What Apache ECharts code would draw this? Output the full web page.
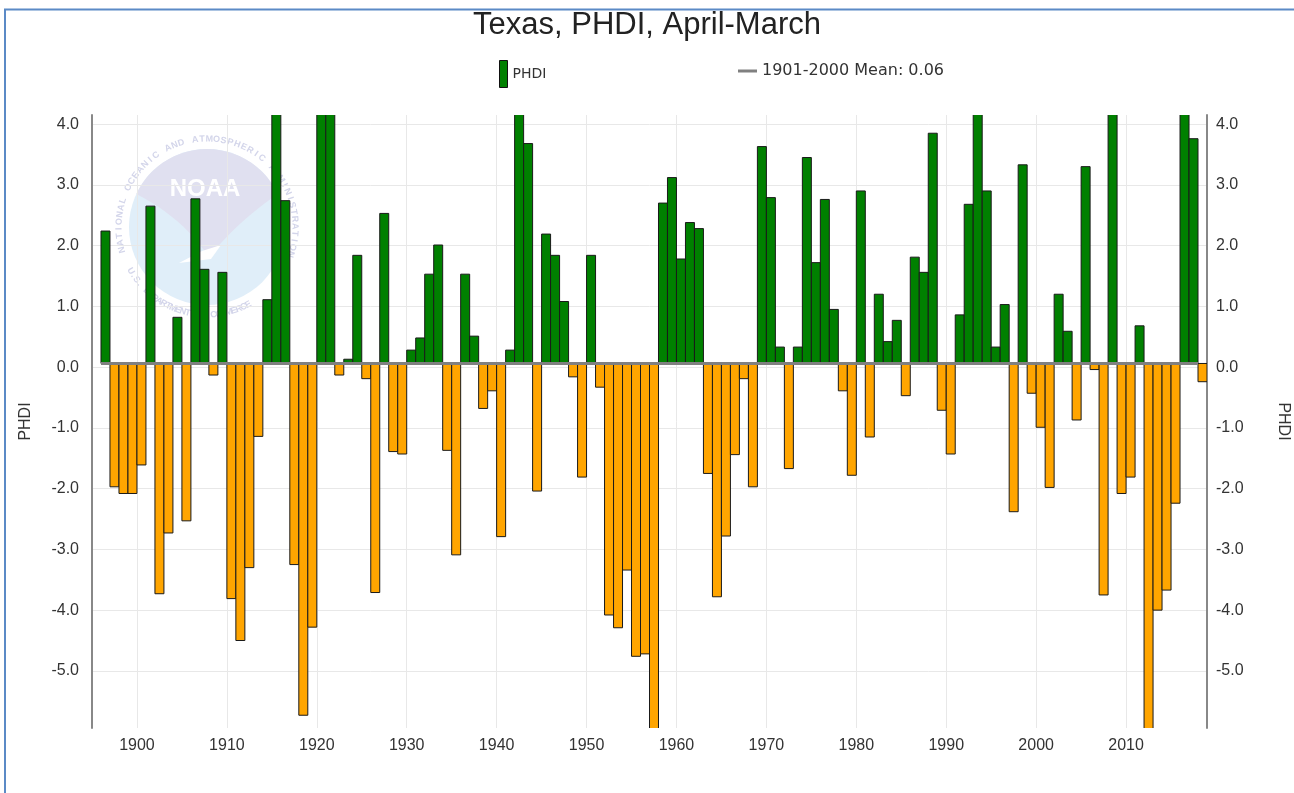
<!DOCTYPE html>
<html>
<head>
<meta charset="utf-8">
<title>Texas, PHDI, April-March</title>
<script src="https://cdn.jsdelivr.net/npm/echarts@6/dist/echarts.min.js"></script>
<style>
  html, body { margin: 0; padding: 0; background: #ffffff; }
  #chart { width: 1294px; height: 793px; }
</style>
</head>
<body>
<div id="chart"></div>
<script>
// Palmer Hydrological Drought Index, Texas, 12-month periods ending in March
const FIRST_YEAR = 1896;
const phdi = [
  2.24, -1.97, -2.08, -2.08, -1.61, 2.65, -3.73, -2.73, 0.82, -2.53,   // 1896-1905
  2.77, 1.61, -0.13, 1.56, -3.81, -4.50, -3.30, -1.14, 1.11, 4.60,     // 1906-1915
  2.74, -3.25, -5.73, -4.28, 5.00, 4.50, -0.13, 0.13, 1.84, -0.19,     // 1916-1925
  -3.71, 2.53, -1.39, -1.43, 0.28, 0.48, 1.53, 2.01, -1.37, -3.09,     // 1926-1935
  1.53, 0.51, -0.68, -0.39, -2.79, 0.28, 4.40, 3.68, -2.04, 2.19,      // 1936-1945
  1.84, 1.08, -0.16, -1.81, 1.84, -0.33, -4.08, -4.29, -3.34, -4.76,   // 1946-1955
  -4.72, -6.30, 2.70, 3.12, 1.78, 2.38, 2.28, -1.75, -3.78, -2.78,     // 1956-1965
  -1.44, -0.19, -1.97, 3.63, 2.79, 0.33, -1.67, 0.33, 3.45, 1.72,      // 1966-1975
  2.76, 0.95, -0.39, -1.78, 2.90, -1.15, 1.20, 0.42, 0.77, -0.47,      // 1976-1985
  1.81, 1.56, 3.85, -0.71, -1.43, 0.86, 2.68, 4.50, 2.90, 0.33,        // 1986-1995
  1.03, -2.38, 3.33, -0.43, -0.99, -1.98, 1.20, 0.59, -0.87, 3.30,     // 1996-2005
  -0.04, -3.75, 4.40, -2.08, -1.81, 0.68, -6.50, -4.00, -3.67, -2.24,  // 2006-2015
  4.50, 3.76, -0.24                                                    // 2016-2018
];
const years = phdi.map((_, i) => FIRST_YEAR + i);

// 1901-2000 base-period mean; bars grow up or down from it
const MEAN = 0.06;
const meanLabel = '1901-2000 Mean: 0.06';
const seriesLabel = 'PHDI';
const chartTitle = 'Texas, PHDI, April-March';

// axis extents
const xMin = 1895, xMax = 2019;
const yMin = -5.94, yMax = 4.15;

const GREEN = '#008000';
const ORANGE = '#ffa500';
const FONT = "'Liberation Sans', Arial, sans-serif";
const LEGEND_FONT = "'DejaVu Sans', Verdana, sans-serif";

// faint agency seal behind the plot
const sealTop = 'NATIONAL OCEANIC AND ATMOSPHERIC ADMINISTRATION';
const sealBottom = 'U.S. DEPARTMENT OF COMMERCE';
const sealName = 'NOAA';

function ringText(str, cx, cy, r, startDeg, endDeg, clockwise) {
  const out = [];
  const n = str.length;
  for (let i = 0; i < n; i++) {
    const t = n === 1 ? 0 : i / (n - 1);
    const deg = startDeg + (endDeg - startDeg) * t;
    const a = deg * Math.PI / 180;
    const x = cx + r * Math.cos(a);
    const y = cy + r * Math.sin(a);
    const rot = clockwise ? -(a + Math.PI / 2) : -(a - Math.PI / 2);
    out.push({
      type: 'text', x: x, y: y, rotation: rot, silent: true, z: -5,
      style: {
        text: str[i], fill: '#d3d5ea', font: 'bold 9px ' + FONT,
        align: 'center', verticalAlign: 'middle'
      }
    });
  }
  return out;
}

// sample a quadratic curve into polygon points
function quad(p0, c, p1, steps) {
  const pts = [];
  for (let i = 1; i <= steps; i++) {
    const t = i / steps, u = 1 - t;
    pts.push([u * u * p0[0] + 2 * u * t * c[0] + t * t * p1[0],
              u * u * p0[1] + 2 * u * t * c[1] + t * t * p1[1]]);
  }
  return pts;
}

function sealGraphics() {
  const cx = 207, cy = 227, r = 78;
  // upper band: arc across the top, closed by the gull's wings
  const top = [];
  for (let d = 205; d <= 335; d += 5) {
    const a = d * Math.PI / 180;
    top.push([cx + r * Math.cos(a), cy + r * Math.sin(a)]);
  }
  const R = top[top.length - 1], L = top[0];
  const tipPt = [cx + 2, cy + 30];
  const upper = top
    .concat(quad(R, [cx + 30, cy - 5], tipPt, 12))
    .concat(quad(tipPt, [cx - 25, cy - 10], L, 12));
  const tail = [[cx - 28, cy + 36], [cx - 5, cy + 24], [cx + 14, cy + 18], [cx + 4, cy + 32]];

  const items = [
    { type: 'circle', shape: { cx: cx, cy: cy, r: r }, style: { fill: '#e0eef9' }, silent: true, z: -6 },
    { type: 'polygon', shape: { points: upper }, style: { fill: '#e0e0f0' }, silent: true, z: -5 },
    { type: 'polygon', shape: { points: tail }, style: { fill: '#ffffff' }, silent: true, z: -5 },
    {
      type: 'text', x: cx - 2, y: cy - 38, silent: true, z: -4,
      style: {
        text: sealName, fill: '#ffffff', font: 'bold 24px ' + FONT,
        align: 'center', verticalAlign: 'middle'
      }
    }
  ];
  return items
    .concat(ringText(sealTop, cx, cy, 88, 165, 378, true))
    .concat(ringText(sealBottom, cx, cy, 88, 150, 62, false));
}

const frame = [
  { type: 'line', silent: true, shape: { x1: 4, y1: 9.5, x2: 1294, y2: 9.5 },
    style: { stroke: '#5b8ac6', lineWidth: 2 } },
  { type: 'line', silent: true, shape: { x1: 5, y1: 9, x2: 5, y2: 793 },
    style: { stroke: '#5b8ac6', lineWidth: 2 } }
];

const chart = echarts.init(document.getElementById('chart'), null, { renderer: 'canvas' });

const option = {
  backgroundColor: '#ffffff',
  animation: false,
  textStyle: { fontFamily: FONT },
  title: {
    text: chartTitle,
    left: 'center',
    top: 5,
    textStyle: { fontFamily: FONT, fontSize: 31, fontWeight: 'normal', color: '#222' }
  },
  legend: [
    {
      data: [{ name: seriesLabel, icon: 'rect',
               itemStyle: { color: GREEN, borderColor: '#111', borderWidth: 1 } }],
      left: 494, top: 55,
      itemWidth: 8, itemHeight: 27, itemGap: 6,
      selectedMode: false,
      textStyle: { fontFamily: LEGEND_FONT, fontSize: 14, color: '#333' }
    },
    {
      data: [{ name: meanLabel, icon: 'rect', itemStyle: { color: '#808080' } }],
      left: 733, top: 58,
      itemWidth: 19, itemHeight: 3, itemGap: 6,
      selectedMode: false,
      textStyle: { fontFamily: LEGEND_FONT, fontSize: 16, color: '#333' }
    }
  ],
  grid: { left: 92, right: 87, top: 115, bottom: 65, containLabel: false, outerBoundsMode: 'none' },
  xAxis: {
    type: 'value',
    min: xMin, max: xMax,
    splitNumber: 12,
    axisLine: { show: false },
    axisTick: { show: false },
    axisLabel: {
      fontFamily: FONT, fontSize: 16, color: '#333', margin: 10,
      showMinLabel: false, showMaxLabel: false,
      formatter: v => String(v)
    },
    splitLine: { show: true, showMinLine: false, showMaxLine: false,
                 lineStyle: { color: '#e8e8e8', width: 1 } }
  },
  yAxis: [
    {
      type: 'value', position: 'left',
      min: yMin, max: yMax, splitNumber: 10,
      name: seriesLabel, nameLocation: 'middle', nameGap: 58, nameRotate: 90,
      nameTextStyle: { fontFamily: FONT, fontSize: 16, color: '#333' },
      axisLine: { show: true, lineStyle: { color: '#888', width: 2 } },
      axisTick: { show: false },
      axisLabel: {
        fontFamily: FONT, fontSize: 16, color: '#333', margin: 13,
        showMinLabel: false, showMaxLabel: false,
        formatter: v => v.toFixed(1)
      },
      splitLine: { show: true, showMinLine: false, showMaxLine: false,
                   lineStyle: { color: '#e8e8e8', width: 1 } }
    },
    {
      type: 'value', position: 'right',
      min: yMin, max: yMax, splitNumber: 10,
      name: seriesLabel, nameLocation: 'middle', nameGap: 68, nameRotate: -90,
      nameTextStyle: { fontFamily: FONT, fontSize: 16, color: '#333' },
      axisLine: { show: true, lineStyle: { color: '#888', width: 2 } },
      axisTick: { show: false },
      axisLabel: {
        fontFamily: FONT, fontSize: 16, color: '#333', margin: 9,
        showMinLabel: false, showMaxLabel: false,
        formatter: v => v.toFixed(1)
      },
      splitLine: { show: false }
    }
  ],
  graphic: { elements: sealGraphics().concat(frame) },
  series: [
    {
      name: seriesLabel,
      type: 'custom',
      clip: true,
      z: 2,
      itemStyle: { color: GREEN, borderColor: '#111', borderWidth: 1 },
      encode: { x: 0, y: 1 },
      data: years.map((y, i) => [y, phdi[i]]),
      renderItem: function (params, api) {
        const yr = api.value(0);
        const v = api.value(1);
        const base = api.coord([yr, MEAN]);
        const tip = api.coord([yr + 1, v]);
        return {
          type: 'rect',
          shape: {
            x: base[0],
            y: Math.min(base[1], tip[1]),
            width: tip[0] - base[0],
            height: Math.abs(tip[1] - base[1])
          },
          style: { fill: v >= MEAN ? GREEN : ORANGE, stroke: '#1a1a1a', lineWidth: 1 }
        };
      }
    },
    {
      name: meanLabel,
      type: 'line',
      z: 3,
      symbol: 'none',
      silent: true,
      lineStyle: { color: '#808080', width: 3 },
      data: years.map(y => [y, MEAN])
    }
  ]
};

chart.setOption(option);
</script>
</body>
</html>
